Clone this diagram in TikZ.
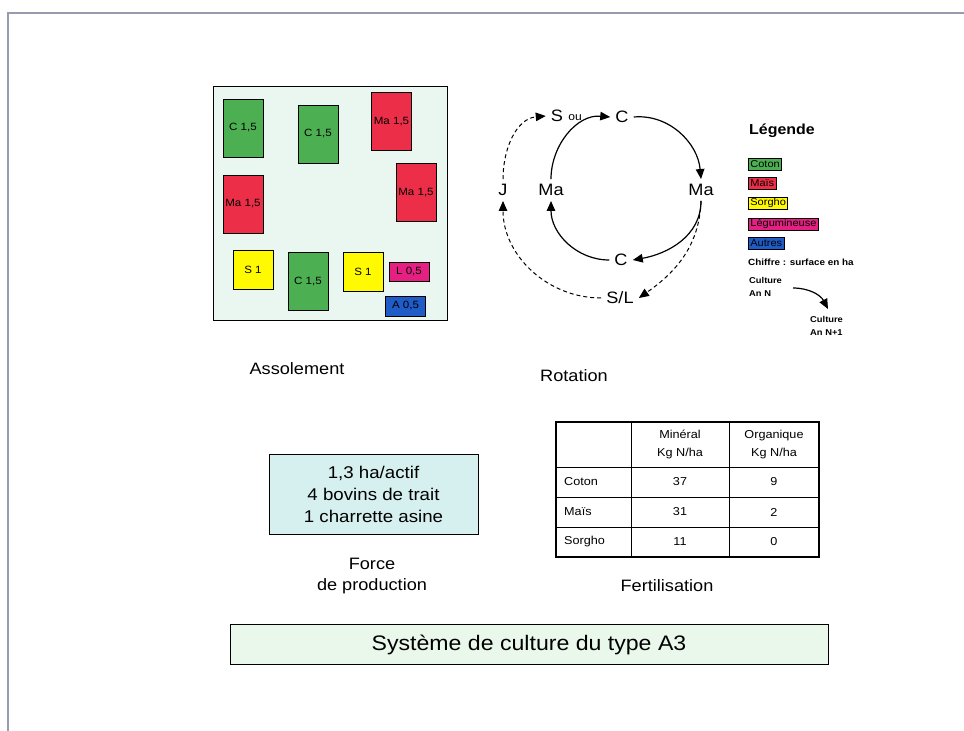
\documentclass[tikz,border=0pt]{standalone}
\usepackage{fontspec}
\setmainfont{Liberation Sans}[FakeStretch=1.1]
\usetikzlibrary{arrows.meta}

\definecolor{cgreen}{RGB}{76,175,82}
\definecolor{cred}{RGB}{236,46,72}
\definecolor{cyellow}{RGB}{255,250,0}
\definecolor{cpink}{RGB}{230,32,130}
\definecolor{cblue}{RGB}{32,92,200}
\definecolor{cmint}{RGB}{234,246,240}
\definecolor{cforce}{RGB}{214,240,240}
\definecolor{ctitle}{RGB}{234,248,236}
\definecolor{cborder}{RGB}{150,156,176}

\newcommand\fsz[2]{\fontsize{#1}{#2}\selectfont}

\begin{document}
\begin{tikzpicture}[
  x=1pt, y=1pt,
  field/.style={draw, line width=0.8pt, minimum width=40pt, minimum height=58pt,
    inner sep=0pt, font=\fsz{10.5}{12}},
  lbox/.style={draw, line width=0.8pt, anchor=west, inner xsep=2pt, inner ysep=0pt,
    minimum height=12pt, font=\fsz{10}{12}},
  rot/.style={font=\fsz{16.5}{19}, inner sep=5pt},
  lab/.style={font=\fsz{16.5}{21}, align=center, inner sep=0pt},
  tab/.style={font=\fsz{11.5}{18}, align=center, inner sep=0pt},
  sol/.style={line width=1.2pt, -{Triangle[length=10pt,width=8.5pt]}},
  dsh/.style={line width=1pt, dash pattern=on 4pt off 3pt,
    -{Triangle[length=10pt,width=8.5pt]}}
]
\useasboundingbox (0,0) rectangle (964,-731);
\fill[white] (0,0) rectangle (964,-731);

% page frame
\draw[cborder, line width=1.5pt] (8,-731) -- (8,-13) -- (964,-13);

% ---------- Assolement: field plan ----------
\node[draw, fill=cmint, line width=1pt, minimum width=234pt, minimum height=234pt,
  inner sep=0pt] (plan) at (330,-203) {};
\node[field, fill=cgreen] (f1) at (243,-128) {C 1,5};
\node[field, fill=cgreen] (f2) at (318,-134) {C 1,5};
\node[field, fill=cred] (f3) at (391.5,-121.5) {Ma 1,5};
\node[field, fill=cred] (f4) at (243,-204) {Ma 1,5};
\node[field, fill=cred] (f5) at (416,-192.5) {Ma 1,5};
\node[field, fill=cyellow, minimum height=39pt] (f6) at (253,-269.5) {S 1};
\node[field, fill=cgreen] (f7) at (308,-281.5) {C 1,5};
\node[field, fill=cyellow, minimum height=39pt] (f8) at (363,-271.5) {S 1};
\node[field, fill=cpink, minimum height=19pt] (f9) at (409,-271.5) {L 0,5};
\node[field, fill=cblue, minimum height=20pt] (f10) at (405.5,-306) {A 0,5};
\node[lab] (assol) at (297,-369) {Assolement};

% ---------- Rotation ----------
\node[rot] (S) at (557,-116) {S};
\node[font=\fsz{11}{13}, inner sep=0pt] (ou) at (575,-118) {ou};
\node[rot] (Ct) at (622,-117) {C};
\node[rot] (Mr) at (701,-190) {Ma};
\node[rot] (Ml) at (551,-190) {Ma};
\node[rot] (J) at (503,-190) {J};
\node[rot] (Cb) at (621,-260) {C};
\node[rot] (SL) at (620,-298) {S/L};

\draw[sol] (Ct.east) to[out=5,in=95] (Mr.north);
\draw[sol] (Mr.south) to[out=-90,in=10] (Cb.east);
\draw[sol] (Cb.west) to[out=180,in=-90] (Ml.south);
\draw[sol] (Ml.north) to[out=90,in=175] (Ct.west);
\draw[dsh] (J.north) to[out=90,in=185] (S.west);
\draw[dsh] (Mr.south) to[out=-92,in=35] (SL.east);
\draw[dsh] (SL.west) to[out=180,in=-90] (J.south);
\node[lab] (rotl) at (574,-376) {Rotation};

% ---------- Legend ----------
\node[anchor=west, inner sep=0pt, font=\bfseries\fsz{14.5}{17}] (leg) at (749,-131) {Légende};
\node[lbox, fill=cgreen] (lc) at (748,-164) {Coton};
\node[lbox, fill=cred] (lm) at (748,-183) {Maïs};
\node[lbox, fill=cyellow] (ls) at (748,-203) {Sorgho};
\node[lbox, fill=cpink] (ll) at (748,-224) {Légumineuse};
\node[lbox, fill=cblue] (la) at (748,-243) {Autres};
\node[anchor=west, inner sep=0pt, font=\bfseries\fsz{9}{11}] (chif) at (748,-262) {Chiffre : surface en ha};
\node[anchor=west, inner sep=0pt, align=left, font=\bfseries\fsz{8.5}{13}] (cn) at (749,-286.5) {Culture\\An N};
\node[anchor=west, inner sep=0pt, align=left, font=\bfseries\fsz{8.5}{13}] (cn1) at (810,-326) {Culture\\An N+1};
\coordinate (arA) at (793,-288);
\coordinate (arB) at (828,-309);
\draw[sol] (arA) to[out=0,in=118] (arB);

% ---------- Force de production ----------
\node[draw, fill=cforce, line width=0.8pt, minimum width=209pt, minimum height=80pt,
  align=center, inner sep=0pt, font=\fsz{17}{22}] (force) at (373.5,-494)
  {1,3 ha/actif\\4 bovins de trait\\1 charrette asine};
\node[lab] (forcel) at (372,-576) {Force\\de production};

% ---------- Fertilisation table ----------
\draw[line width=1pt] (631,-422) -- (631,-557)
  (729,-422) -- (729,-557)
  (556,-467) -- (819,-467)
  (556,-497) -- (819,-497)
  (556,-527) -- (819,-527);
\draw[line width=1.5pt] (556,-422) rectangle (819,-557);
\node[tab] (h1) at (680,-444.5) {Minéral\\Kg N/ha};
\node[tab] (h2) at (774,-444.5) {Organique\\Kg N/ha};
\node[tab, anchor=west] (r1) at (564,-482) {Coton};
\node[tab, anchor=west] (r2) at (564,-512) {Maïs};
\node[tab, anchor=west] (r3) at (564,-542) {Sorgho};
\node[tab] (v11) at (680,-482) {37};
\node[tab] (v12) at (774,-482) {9};
\node[tab] (v21) at (680,-512) {31};
\node[tab] (v22) at (774,-512) {2};
\node[tab] (v31) at (680,-542) {11};
\node[tab] (v32) at (774,-542) {0};
\node[lab] (fert) at (667,-586) {Fertilisation};

% ---------- Title ----------
\node[draw, fill=ctitle, line width=0.8pt, minimum width=598pt, minimum height=40pt,
  inner sep=0pt, font=\fsz{21}{25}] (title) at (529,-644.5) {Système de culture du type A3};
\end{tikzpicture}
\end{document}
